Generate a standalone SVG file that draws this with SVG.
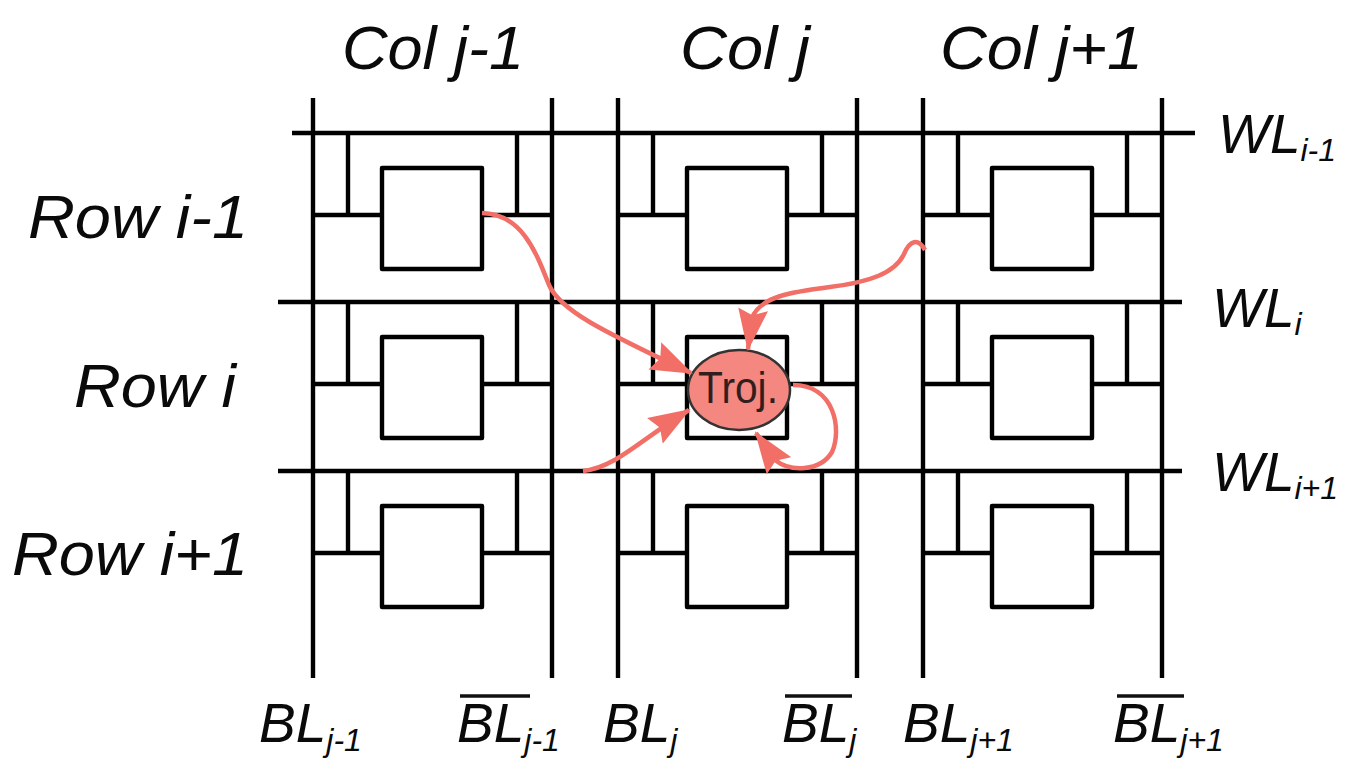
<svg xmlns="http://www.w3.org/2000/svg" width="1358" height="783" viewBox="0 0 1358 783">
<style>
.w{stroke:#000;stroke-width:4.4;fill:none;stroke-linecap:butt}
.bx{stroke:#000;stroke-width:4.4;fill:#fff;stroke-linejoin:round}
.lbl{font-family:"Liberation Sans",Arial,sans-serif;font-style:italic;fill:#0a0a0a}
.big{font-size:62px}
.mid{font-size:55px}
.sub{font-size:32px}
.ar{stroke:#F26F67;stroke-width:4.5;fill:none;marker-end:url(#ah)}
.ov{stroke:#111;stroke-width:3.5}
</style>
<defs>
<marker id="ah" markerUnits="userSpaceOnUse" markerWidth="42" markerHeight="30" viewBox="0 0 42 30" refX="40" refY="15" orient="auto">
<path d="M0,0 L42,15 L0,30 L6,15 Z" fill="#F26F67"/>
</marker>
</defs>
<rect width="1358" height="783" fill="#fff"/>

<g id="cells">
<g id="cell-r0-c0" transform="translate(313,133)"><line class="w" x1="35" y1="0" x2="35" y2="82"/><line class="w" x1="204" y1="0" x2="204" y2="82"/><line class="w" x1="0" y1="82" x2="69" y2="82"/><line class="w" x1="169" y1="82" x2="239" y2="82"/><rect class="bx" x="69" y="35" width="100" height="101"/></g>
<g id="cell-r0-c1" transform="translate(618,133)"><line class="w" x1="35" y1="0" x2="35" y2="82"/><line class="w" x1="204" y1="0" x2="204" y2="82"/><line class="w" x1="0" y1="82" x2="69" y2="82"/><line class="w" x1="169" y1="82" x2="239" y2="82"/><rect class="bx" x="69" y="35" width="100" height="101"/></g>
<g id="cell-r0-c2" transform="translate(923,133)"><line class="w" x1="35" y1="0" x2="35" y2="82"/><line class="w" x1="204" y1="0" x2="204" y2="82"/><line class="w" x1="0" y1="82" x2="69" y2="82"/><line class="w" x1="169" y1="82" x2="239" y2="82"/><rect class="bx" x="69" y="35" width="100" height="101"/></g>
<g id="cell-r1-c0" transform="translate(313,302)"><line class="w" x1="35" y1="0" x2="35" y2="82"/><line class="w" x1="204" y1="0" x2="204" y2="82"/><line class="w" x1="0" y1="82" x2="69" y2="82"/><line class="w" x1="169" y1="82" x2="239" y2="82"/><rect class="bx" x="69" y="35" width="100" height="101"/></g>
<g id="cell-r1-c1" transform="translate(618,302)"><line class="w" x1="35" y1="0" x2="35" y2="82"/><line class="w" x1="204" y1="0" x2="204" y2="82"/><line class="w" x1="0" y1="82" x2="69" y2="82"/><line class="w" x1="169" y1="82" x2="239" y2="82"/><rect class="bx" x="69" y="35" width="100" height="101"/></g>
<g id="cell-r1-c2" transform="translate(923,302)"><line class="w" x1="35" y1="0" x2="35" y2="82"/><line class="w" x1="204" y1="0" x2="204" y2="82"/><line class="w" x1="0" y1="82" x2="69" y2="82"/><line class="w" x1="169" y1="82" x2="239" y2="82"/><rect class="bx" x="69" y="35" width="100" height="101"/></g>
<g id="cell-r2-c0" transform="translate(313,471)"><line class="w" x1="35" y1="0" x2="35" y2="82"/><line class="w" x1="204" y1="0" x2="204" y2="82"/><line class="w" x1="0" y1="82" x2="69" y2="82"/><line class="w" x1="169" y1="82" x2="239" y2="82"/><rect class="bx" x="69" y="35" width="100" height="101"/></g>
<g id="cell-r2-c1" transform="translate(618,471)"><line class="w" x1="35" y1="0" x2="35" y2="82"/><line class="w" x1="204" y1="0" x2="204" y2="82"/><line class="w" x1="0" y1="82" x2="69" y2="82"/><line class="w" x1="169" y1="82" x2="239" y2="82"/><rect class="bx" x="69" y="35" width="100" height="101"/></g>
<g id="cell-r2-c2" transform="translate(923,471)"><line class="w" x1="35" y1="0" x2="35" y2="82"/><line class="w" x1="204" y1="0" x2="204" y2="82"/><line class="w" x1="0" y1="82" x2="69" y2="82"/><line class="w" x1="169" y1="82" x2="239" y2="82"/><rect class="bx" x="69" y="35" width="100" height="101"/></g>
</g>

<g id="wordlines">
<line class="w" x1="292" y1="133" x2="1195" y2="133"/>
<line class="w" x1="278" y1="302" x2="1182" y2="302"/>
<line class="w" x1="278" y1="471" x2="1182" y2="471"/>
</g>
<g id="bitlines">
<line class="w" x1="313" y1="98" x2="313" y2="678"/>
<line class="w" x1="552" y1="98" x2="552" y2="678"/>
<line class="w" x1="618" y1="98" x2="618" y2="678"/>
<line class="w" x1="857" y1="98" x2="857" y2="678"/>
<line class="w" x1="923" y1="98" x2="923" y2="678"/>
<line class="w" x1="1162" y1="98" x2="1162" y2="678"/>
</g>

<g id="trojan">
<ellipse cx="739" cy="390" rx="51" ry="40" fill="#F4877F" stroke="#333" stroke-width="2.5"/>
<text x="738" y="403" font-family="'Liberation Sans',Arial,sans-serif" font-size="44" fill="#331e1e" text-anchor="middle" textLength="80" lengthAdjust="spacingAndGlyphs">Troj.</text>
</g>

<g id="connectors">
<path class="ar" d="M482,213 C522,214 536,252 549,285 C560,310 600,330 691,373"/>
<path class="ar" d="M925,250 C918,238 910,240 904,254 C895,273 870,282 830,287 C790,292 760,297 752,318 L748,349"/>
<path class="ar" d="M583,471 C615,468 640,440 689,410"/>
<path class="ar" d="M793,385 C835,385 842,430 832,452 C820,472 790,472 775,460 L756,433"/>
</g>

<g id="col-labels" class="lbl big">
<text x="342" y="69" textLength="182" lengthAdjust="spacingAndGlyphs">Col j-1</text>
<text x="680" y="69" textLength="130" lengthAdjust="spacingAndGlyphs">Col j</text>
<text x="940" y="69" textLength="203" lengthAdjust="spacingAndGlyphs">Col j+1</text>
</g>
<g id="row-labels" class="lbl big">
<text x="28" y="238" textLength="220" lengthAdjust="spacingAndGlyphs">Row i-1</text>
<text x="74" y="407" textLength="162" lengthAdjust="spacingAndGlyphs">Row i</text>
<text x="12" y="575" textLength="236" lengthAdjust="spacingAndGlyphs">Row i+1</text>
</g>
<g id="wl-labels" class="lbl mid">
<text x="1218" y="153">WL<tspan class="sub" dy="8">i-1</tspan></text>
<text x="1212" y="327">WL<tspan class="sub" dy="8">i</tspan></text>
<text x="1212" y="491">WL<tspan class="sub" dy="8">i+1</tspan></text>
</g>
<g id="bl-labels" class="lbl mid">
<text x="259" y="742">BL<tspan class="sub" dy="9">j-1</tspan></text>
<text x="457" y="742">BL<tspan class="sub" dy="9">j-1</tspan></text>
<text x="603" y="742">BL<tspan class="sub" dy="9">j</tspan></text>
<text x="782" y="742">BL<tspan class="sub" dy="9">j</tspan></text>
<text x="903" y="742">BL<tspan class="sub" dy="9">j+1</tspan></text>
<text x="1113" y="742">BL<tspan class="sub" dy="9">j+1</tspan></text>
<line class="ov" x1="460" y1="696" x2="530" y2="696"/>
<line class="ov" x1="785" y1="696" x2="852" y2="696"/>
<line class="ov" x1="1117" y1="696" x2="1184" y2="696"/>
</g>
</svg>
